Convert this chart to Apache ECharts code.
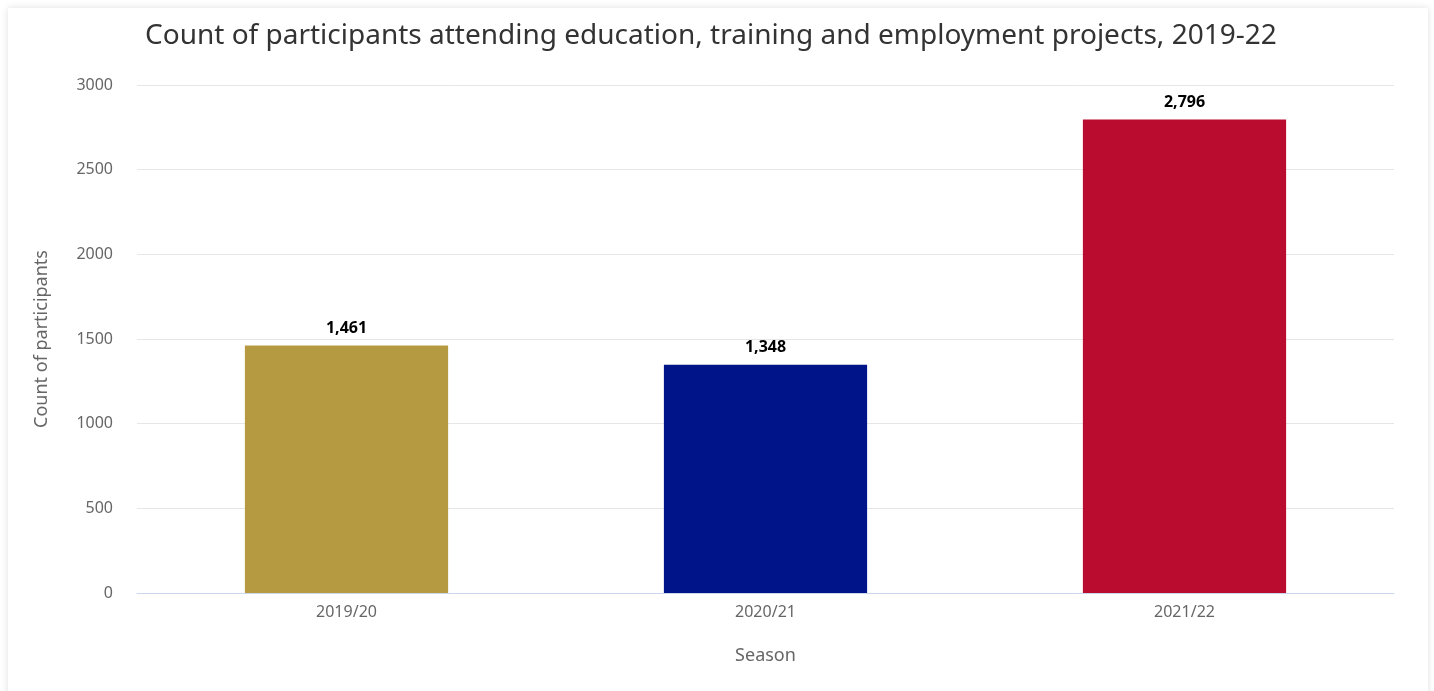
<!DOCTYPE html>
<html>
<head>
<meta charset="utf-8">
<script src="https://cdn.jsdelivr.net/npm/echarts@6/dist/echarts.min.js"></script>
<style>
  html, body { margin: 0; padding: 0; background: #fff; width: 1434px; height: 691px; overflow: hidden; }
  #card { position: absolute; left: 8px; top: 8px; width: 1420px; height: 700px; background: #fff;
          box-shadow: 0 0 7px rgba(0,0,0,0.13); }
  #chart { position: absolute; left: 0; top: 0; width: 1420px; height: 683px; }
</style>
</head>
<body>
<div id="card"><div id="chart"></div></div>
<script>
const seasons = ['2019/20', '2020/21', '2021/22'];
const participants = [1461, 1348, 2796];
const barColors = ['#b59a42', '#00148a', '#ba0c2f'];
const yTicks = { min: 0, max: 3000, interval: 500 };

const font = '"Noto Sans", "Open Sans", sans-serif';
const chart = echarts.init(document.getElementById('chart'));
chart.setOption({
  animation: false,
  title: {
    text: 'Count of participants attending education, training and employment projects, 2019-22',
    left: 132,
    top: 9,
    textStyle: { fontFamily: font, fontSize: 28, fontWeight: 'normal', color: '#333' }
  },
  grid: { left: 129, right: 34, top: 77, bottom: 98 },
  xAxis: {
    type: 'category',
    data: seasons,
    name: 'Season',
    nameLocation: 'middle',
    nameGap: 54,
    nameTextStyle: { fontFamily: font, fontSize: 18, color: '#666' },
    axisLine: { lineStyle: { color: '#ccd6eb', width: 1 } },
    axisTick: { show: false },
    axisLabel: { fontFamily: font, fontSize: 16, color: '#666', margin: 11 }
  },
  yAxis: {
    type: 'value',
    min: yTicks.min,
    max: yTicks.max,
    interval: yTicks.interval,
    name: 'Count of participants',
    nameLocation: 'middle',
    nameGap: 86,
    nameTextStyle: { fontFamily: font, fontSize: 18, color: '#666' },
    axisLine: { show: false },
    axisTick: { show: false },
    axisLabel: { fontFamily: font, fontSize: 16, color: '#666', margin: 24, formatter: v => String(v) },
    splitLine: { lineStyle: { color: '#e6e6e6', width: 1 } }
  },
  series: [{
    type: 'bar',
    barWidth: '48.5%',
    data: participants.map((v, i) => ({ value: v, itemStyle: { color: barColors[i] } })),
    label: {
      show: true,
      position: 'top',
      distance: 9,
      fontFamily: font,
      fontSize: 16,
      fontWeight: 'bold',
      color: '#000',
      formatter: p => p.value.toLocaleString('en-US')
    }
  }]
});
</script>
</body>
</html>
